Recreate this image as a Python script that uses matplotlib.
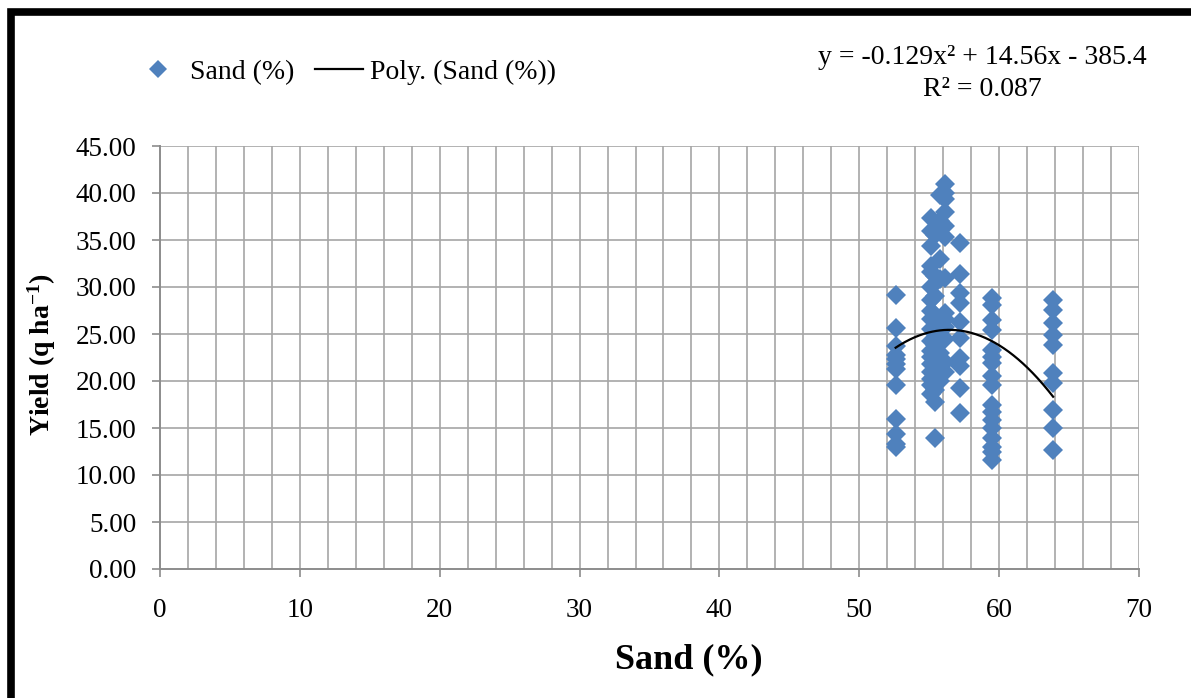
import matplotlib
matplotlib.use("Agg")
import matplotlib.pyplot as plt
import numpy as np
from matplotlib.lines import Line2D
from matplotlib.patches import Rectangle

plt.rcParams['font.family'] = ['Liberation Serif', 'DejaVu Serif']
plt.rcParams['mathtext.fontset'] = 'custom'
plt.rcParams['mathtext.rm'] = 'Liberation Serif'
plt.rcParams['mathtext.it'] = 'Liberation Serif:italic'
plt.rcParams['mathtext.bf'] = 'Liberation Serif:bold'

# ---- data ----
sand_52_6 = [29.2, 25.6, 23.7, 22.8, 22.3, 21.8, 21.3, 19.6, 16.0, 14.4, 13.3, 13.0]
sand_55_1 = [37.3, 36.0, 34.4, 32.2, 31.6, 30.0, 28.6, 27.4, 26.6, 25.5, 24.3, 23.2,
             22.6, 21.8, 21.0, 20.2, 19.6, 18.6]
sand_55_4 = [35.5, 31.2, 29.0, 27.0, 25.0, 23.8, 22.2, 20.8, 19.0, 17.8, 13.9]
sand_55_8 = [39.8, 37.0, 33.0, 30.8, 26.2, 24.8, 23.0, 21.5, 20.0]
sand_56_1 = [41.0, 40.0, 39.4, 38.0, 36.5, 35.3, 31.0, 27.2, 26.6, 25.7, 24.5, 22.0, 21.0]
sand_57_2 = [34.7, 31.4, 29.4, 28.3, 26.3, 24.6, 22.4, 21.6, 19.3, 16.6]
sand_59_5 = [28.8, 28.1, 26.5, 25.4, 23.3, 22.6, 21.9, 20.5, 19.6, 17.4, 16.7, 15.9,
             15.0, 13.9, 13.0, 12.5, 11.6]
sand_63_9 = [28.6, 27.6, 26.2, 24.9, 23.8, 20.8, 19.8, 16.9, 15.0, 12.7]

sand_levels = [52.6, 55.1, 55.4, 55.8, 56.1, 57.2, 59.5, 63.86]
yield_groups = [sand_52_6, sand_55_1, sand_55_4, sand_55_8, sand_56_1,
                sand_57_2, sand_59_5, sand_63_9]

sand = [s for s, g in zip(sand_levels, yield_groups) for _ in g]
yields = [v for g in yield_groups for v in g]

# trendline coefficients (from the chart's equation)
poly_coef = [-0.129, 14.56, -385.4]
eq_text = "y = -0.129x\u00b2 + 14.56x - 385.4"
r2_text = "R\u00b2 = 0.087"

x_ticks = [0, 10, 20, 30, 40, 50, 60, 70]
y_ticks = [0, 5, 10, 15, 20, 25, 30, 35, 40, 45]

W, H = 1191, 698
fig = plt.figure(figsize=(W / 100, H / 100), dpi=100)
ax = fig.add_axes([160 / W, 1 - 569 / H, (1139 - 160) / W, (569 - 146) / H])

grid_c = '#a6a6a6'
ax.set_xlim(0, 70)
ax.set_ylim(0, 45)
for xv in np.arange(2, 70.1, 2):
    ax.axvline(xv, color=grid_c, lw=1.2, zorder=0)
for yv in y_ticks[1:]:
    ax.axhline(yv, color=grid_c, lw=1.2, zorder=0)

for side in ['top', 'right']:
    ax.spines[side].set_visible(False)
ax.spines['left'].set_color('#8c8c8c')
ax.spines['bottom'].set_color('#8c8c8c')
ax.spines['left'].set_linewidth(1.4)
ax.spines['bottom'].set_linewidth(1.4)

ax.set_xticks(x_ticks)
ax.set_yticks(y_ticks)
ax.set_xticklabels([str(v) for v in x_ticks])
ax.set_yticklabels([f"{v:.2f}" for v in y_ticks])
ax.tick_params(axis='both', labelsize=19.5, color='#8c8c8c', width=1.2, length=6,
               direction='out')
ax.tick_params(axis='x', pad=15)
ax.tick_params(axis='y', pad=11)

pts_color = '#4F81BD'
ax.plot(sand, yields, linestyle='none', marker='D', markersize=10,
        color=pts_color, markeredgewidth=0, zorder=3, clip_on=False)

xs = np.linspace(min(sand), max(sand), 200)
ax.plot(xs, np.polyval(poly_coef, xs), color='black', lw=1.6, zorder=4)

# axis labels
fig.text(689 / W, 1 - 660 / H, "Sand (%)", fontsize=26, fontweight='bold',
         ha='center', va='center')
fig.text(42 / W, 1 - 355 / H, r"Yield (q ha$^{\mathbf{-1}}$)", fontsize=20,
         fontweight='bold', ha='center', va='center', rotation=90)

# equation
fig.text(982 / W, 1 - 58 / H, eq_text, fontsize=20, ha='center', va='center')
fig.text(982 / W, 1 - 90 / H, r2_text, fontsize=20, ha='center', va='center')

# legend
handles = [Line2D([], [], linestyle='none', marker='D', markersize=9,
                  color=pts_color, markeredgewidth=0),
           Line2D([], [], color='black', lw=1.6)]
fig.legend(handles, ["Sand (%)", "Poly. (Sand (%))"], loc='center left',
           bbox_to_anchor=(134 / W, 1 - 72 / H), ncol=2, frameon=False,
           fontsize=20, handlelength=1.75, handletextpad=0.25, columnspacing=0.75,
           borderpad=0, borderaxespad=0)

# outer border (left and top visible)
fig.patches.append(Rectangle((10.5 / W, -0.1), 1.2, 1 - 12.5 / H + 0.1,
                             transform=fig.transFigure, fill=False,
                             edgecolor='black', lw=5.5, zorder=10))

fig.savefig("out.png", dpi=100)
